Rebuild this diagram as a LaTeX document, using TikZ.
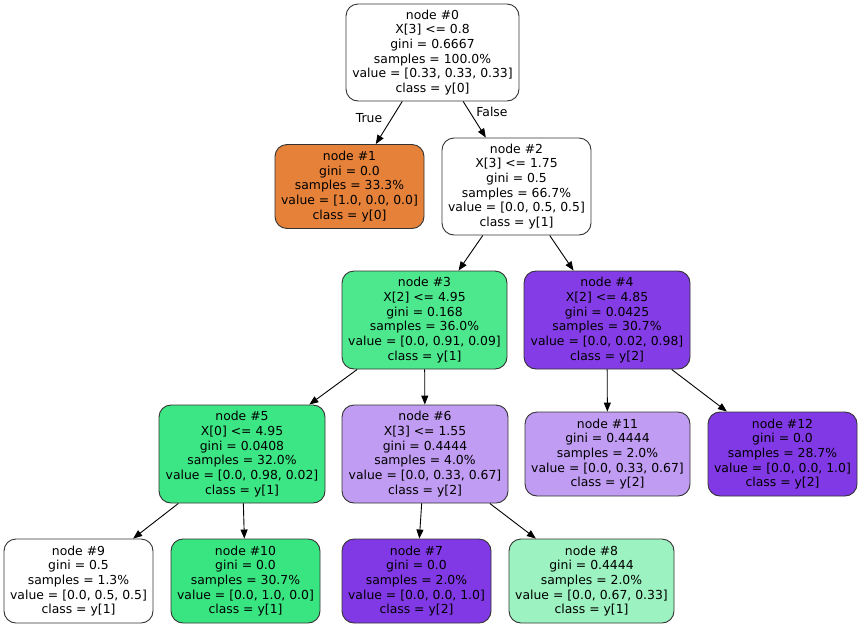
\documentclass[tikz,border=0pt]{standalone}
\usepackage{fontspec}
\setmainfont{DejaVu Sans}
\usetikzlibrary{arrows.meta}

\definecolor{cls0}{HTML}{E58139}
\definecolor{cls1}{HTML}{39E581}
\definecolor{cls2}{HTML}{8139E5}
\definecolor{cls1a}{HTML}{4DE88D}
\definecolor{cls1b}{HTML}{3DE684}
\definecolor{cls1c}{HTML}{9CF2C0}
\definecolor{cls2a}{HTML}{843DE6}
\definecolor{cls2b}{HTML}{C09CF2}

\begin{document}
\begin{tikzpicture}[x=1pt, y=-1pt, >={Triangle[length=9pt,width=7pt]}, line width=0.9pt,
  every node/.style={draw=black!80, rounded corners=12pt, align=center, inner sep=0pt, font=\fontsize{12.4}{14.7}\selectfont},
  split/.style={minimum height=97pt}, leaf/.style={minimum height=84pt},
  lbl/.style={draw=none, fill=none, rounded corners=0pt}]
\useasboundingbox (0,0) rectangle (861,627);
\node[split, fill=white, minimum width=173pt] (n0) at (432.5,52.5) {node \#0\\X[3] <= 0.8\\gini = 0.6667\\samples = 100.0\%\\value = [0.33, 0.33, 0.33]\\class = y[0]};
\node[leaf, fill=cls0, minimum width=149pt] (n1) at (349.5,186.5) {node \#1\\gini = 0.0\\samples = 33.3\%\\value = [1.0, 0.0, 0.0]\\class = y[0]};
\node[split, fill=white, minimum width=149pt] (n2) at (516.5,186.5) {node \#2\\X[3] <= 1.75\\gini = 0.5\\samples = 66.7\%\\value = [0.0, 0.5, 0.5]\\class = y[1]};
\node[split, fill=cls1a, minimum width=165pt, minimum height=98pt] (n3) at (424.5,320) {node \#3\\X[2] <= 4.95\\gini = 0.168\\samples = 36.0\%\\value = [0.0, 0.91, 0.09]\\class = y[1]};
\node[split, fill=cls2a, minimum width=166pt, minimum height=98pt] (n4) at (607,320) {node \#4\\X[2] <= 4.85\\gini = 0.0425\\samples = 30.7\%\\value = [0.0, 0.02, 0.98]\\class = y[2]};
\node[split, fill=cls1b, minimum width=166pt, minimum height=98pt] (n5) at (242,454) {node \#5\\X[0] <= 4.95\\gini = 0.0408\\samples = 32.0\%\\value = [0.0, 0.98, 0.02]\\class = y[1]};
\node[split, fill=cls2b, minimum width=166pt, minimum height=98pt] (n6) at (425,454) {node \#6\\X[3] <= 1.55\\gini = 0.4444\\samples = 4.0\%\\value = [0.0, 0.33, 0.67]\\class = y[2]};
\node[leaf, fill=cls2b, minimum width=165pt] (n11) at (607.5,454) {node \#11\\gini = 0.4444\\samples = 2.0\%\\value = [0.0, 0.33, 0.67]\\class = y[2]};
\node[leaf, fill=cls2, minimum width=149pt] (n12) at (782.5,454) {node \#12\\gini = 0.0\\samples = 28.7\%\\value = [0.0, 0.0, 1.0]\\class = y[2]};
\node[leaf, fill=white, minimum width=149pt] (n9) at (78.5,581) {node \#9\\gini = 0.5\\samples = 1.3\%\\value = [0.0, 0.5, 0.5]\\class = y[1]};
\node[leaf, fill=cls1, minimum width=149pt] (n10) at (245.5,581) {node \#10\\gini = 0.0\\samples = 30.7\%\\value = [0.0, 1.0, 0.0]\\class = y[1]};
\node[leaf, fill=cls2, minimum width=149pt] (n7) at (416.5,581) {node \#7\\gini = 0.0\\samples = 2.0\%\\value = [0.0, 0.0, 1.0]\\class = y[2]};
\node[leaf, fill=cls1c, minimum width=165pt] (n8) at (591.5,581) {node \#8\\gini = 0.4444\\samples = 2.0\%\\value = [0.0, 0.67, 0.33]\\class = y[1]};
\draw[->] (n0) -- node[lbl, pos=0.4, left=9pt] {True} (n1);
\draw[->] (n0) -- node[lbl, pos=0.3, right=6pt] {False} (n2);
\draw[->] (n2) -- (n3);
\draw[->] (n2) -- (n4);
\draw[->] (n3) -- (n5);
\draw[->] (n3) -- (n6);
\draw[->] (n4) -- (n11);
\draw[->] (n4) -- (n12);
\draw[->] (n5) -- (n9);
\draw[->] (n5) -- (n10);
\draw[->] (n6) -- (n7);
\draw[->] (n6) -- (n8);
\end{tikzpicture}
\end{document}
